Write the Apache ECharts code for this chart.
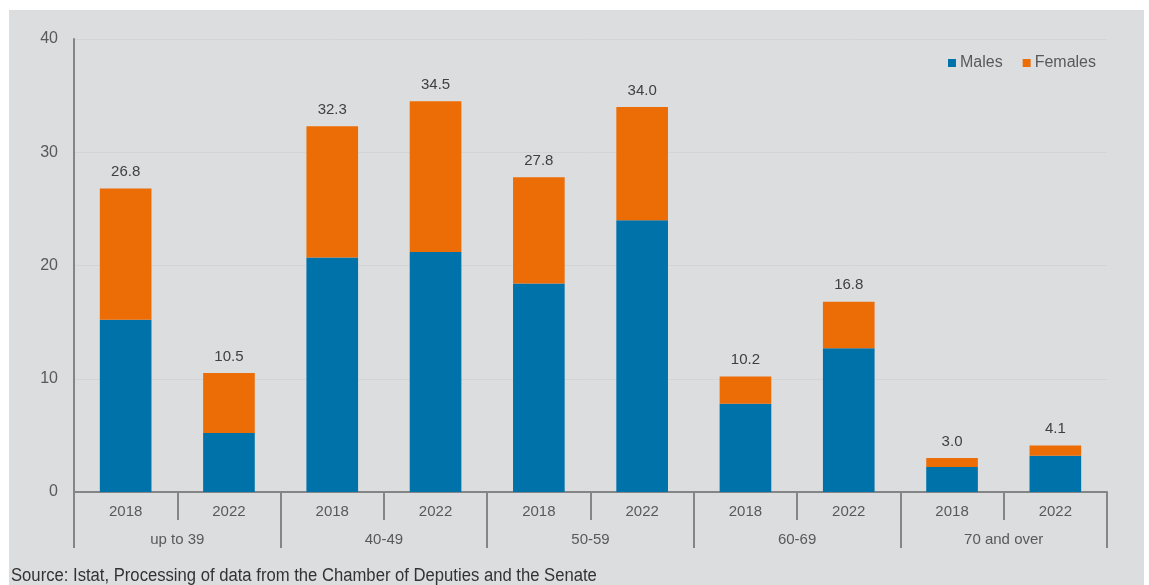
<!DOCTYPE html>
<html>
<head>
<meta charset="utf-8">
<script src="https://cdn.jsdelivr.net/npm/echarts@6/dist/echarts.min.js"></script>
<style>
html,body{margin:0;padding:0;background:#fff;}
#c{width:1149px;height:585px;}
</style>
</head>
<body>
<div id="c"></div>
<script>
const years = ['2018','2022','2018','2022','2018','2022','2018','2022','2018','2022'];
const groups = ['up to 39','40-49','50-59','60-69','70 and over'];
const males = [15.2, 5.2, 20.7, 21.2, 18.4, 24.0, 7.8, 12.7, 2.2, 3.2];
const females = [11.6, 5.3, 11.6, 13.3, 9.4, 10.0, 2.4, 4.1, 0.8, 0.9];
const totals = [26.8, 10.5, 32.3, 34.5, 27.8, 34.0, 10.2, 16.8, 3.0, 4.1];
const yTicks = [0, 10, 20, 30, 40];

const txt = '#595959';
const axisCol = '#858585';
const chart = echarts.init(document.getElementById('c'));
chart.setOption({
  animation: false,
  textStyle: {fontFamily: 'Liberation Sans, Arial, sans-serif'},
  graphic: [
    {type: 'rect', z: -10, silent: true, shape: {x: 9, y: 10, width: 1135, height: 575}, style: {fill: '#dcdddf'}},
    {type: 'text', x: 11, y: 567, scaleX: 0.925, originX: 0, style: {text: 'Source: Istat, Processing of data from the Chamber of Deputies and the Senate', fill: '#333', font: '18px "Liberation Sans", sans-serif'}}
  ],
  legend: {
    right: 48, top: 50, itemWidth: 8, itemHeight: 8, itemGap: 20,
    icon: 'rect',
    textStyle: {color: txt, fontSize: 16, padding: [0,0,0,-1]},
    data: ['Males', 'Females']
  },
  grid: {left: 74, right: 42, top: 39, bottom: 93},
  xAxis: [
    {
      type: 'category', data: years, position: 'bottom',
      axisLine: {lineStyle: {color: axisCol, width: 2}},
      axisTick: {show: true, length: 28, lineStyle: {color: axisCol, width: 2}},
      axisLabel: {color: txt, fontSize: 15, margin: 12}
    },
    {
      type: 'category', data: groups, position: 'bottom',
      axisLine: {show: false},
      axisTick: {show: true, length: 56, lineStyle: {color: axisCol, width: 2}},
      axisLabel: {color: txt, fontSize: 15, margin: 40}
    }
  ],
  yAxis: {
    type: 'value', min: yTicks[0], max: yTicks[yTicks.length-1], interval: 10,
    axisLine: {show: true, lineStyle: {color: axisCol, width: 2}},
    axisTick: {show: false},
    axisLabel: {color: txt, fontSize: 16, margin: 16},
    splitLine: {lineStyle: {color: '#d3d4d6', width: 1}}
  },
  series: [
    {
      name: 'Males', type: 'bar', stack: 'a', data: males, barWidth: '50%',
      itemStyle: {color: '#0072aa'}
    },
    {
      name: 'Females', type: 'bar', stack: 'a', data: females, barWidth: '50%',
      itemStyle: {color: '#ec6d06'},
      label: {
        show: true, position: 'top', distance: 9, color: '#404040', fontSize: 15,
        formatter: p => totals[p.dataIndex].toFixed(1)
      }
    }
  ]
});
</script>
</body>
</html>
